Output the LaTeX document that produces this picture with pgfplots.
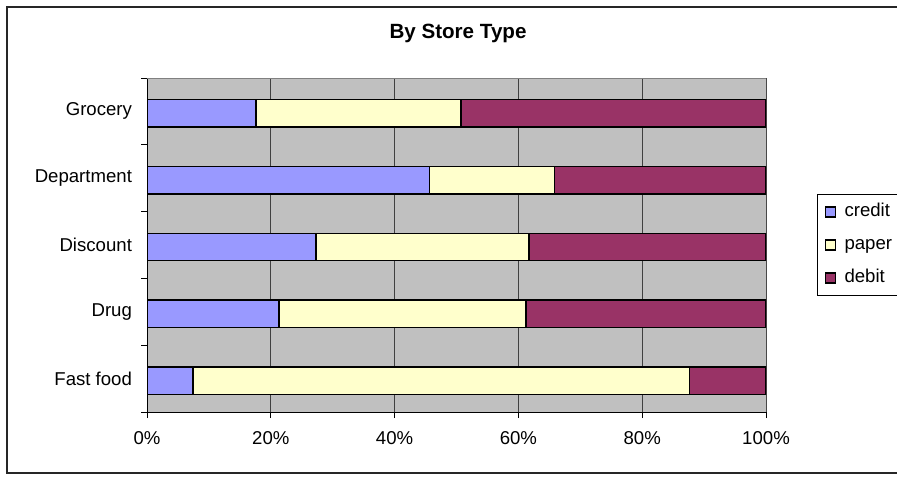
\documentclass[border=0pt]{standalone}
\usepackage{pgfplots}
\pgfplotsset{compat=1.18}
\usepackage{fontspec}
\setmainfont{Liberation Sans}

\definecolor{credit}{HTML}{9999FF}
\definecolor{paper}{HTML}{FFFFCC}
\definecolor{debit}{HTML}{993366}
\definecolor{plotbg}{HTML}{C0C0C0}
\definecolor{gridc}{HTML}{404040}
\definecolor{edgec}{HTML}{808080}

\pgfplotsset{
  sq legend/.style={legend image code/.code={%
    \path[draw=none,fill=none] (0pt,0pt) -- (8.5pt,0pt);
    \draw[##1,line width=0.6pt] (1pt,-2.5pt) rectangle (6pt,2.5pt);}},
}

\begin{document}
\begin{tikzpicture}
\useasboundingbox (0pt,0pt) rectangle (448.5pt,-238pt);
% outer chart frame (runs past the right edge)
\draw[line width=1pt, black!85] (460pt,-3.5pt) -- (3.5pt,-3.5pt) -- (3.5pt,-236.5pt) -- (460pt,-236.5pt);
\node[anchor=base, font=\fontsize{10.3}{12}\selectfont\bfseries] at (229pt,-19.5pt) {By Store Type};

\begin{axis}[
  at={(73.5pt,-206pt)}, anchor=south west,
  scale only axis, width=309.5pt, height=167pt,
  xbar stacked, bar width=0.41,
  xmin=0, xmax=100, ymin=-0.5, ymax=4.5,
  axis background/.style={fill=plotbg},
  axis line style={draw=none},
  xtick={0,20,40,60,80,100},
  xticklabels={0\%,20\%,40\%,60\%,80\%,100\%},
  ytick={-0.5,0.5,1.5,2.5,3.5,4.5},
  yticklabels={},
  extra y ticks={0,1,2,3,4},
  extra y tick labels={Fast food,Drug,Discount,Department,Grocery},
  extra y tick style={major tick length=0pt, grid=none},
  tick pos=left, tick align=outside,
  major tick length=3pt,
  tick style={black, line width=0.5pt},
  xmajorgrids,
  major grid style={gridc, line width=0.5pt},
  tick label style={font=\fontsize{9.3}{11}\selectfont},
  x tick label style={yshift=-3pt},
  y tick label style={xshift=-4pt},
  legend style={
    at={(axis description cs:1.0824,0.6527)}, anchor=north west,
    draw=black, line width=0.5pt, fill=white,
    inner xsep=3pt, inner ysep=0.5pt, row sep=0pt,
    font=\fontsize{9.3}{11}\selectfont,
    nodes={inner ysep=4.05pt, text height=6.5pt, text depth=1.9pt},
  },
  legend cell align=left,
]
\addplot[fill=credit, draw=black, line width=0.75pt, bar shift=-1pt, sq legend]
  coordinates {(7.4,0) (21.3,1) (27.3,2) (45.6,3) (17.6,4)};
\addplot[fill=paper, draw=black, line width=0.75pt, bar shift=-1pt, sq legend]
  coordinates {(80.2,0) (39.9,1) (34.4,2) (20.2,3) (33.1,4)};
\addplot[fill=debit, draw=black, line width=0.75pt, bar shift=-1pt, sq legend]
  coordinates {(12.4,0) (38.8,1) (38.3,2) (34.2,3) (49.3,4)};
\legend{credit\hspace{8pt},paper,debit}
% plot area border: grey top/right, black axis lines left/bottom
\draw[edgec, line width=0.5pt] (rel axis cs:0,1) -- (rel axis cs:1,1) -- (rel axis cs:1,0);
\draw[black, line width=0.5pt] (rel axis cs:0,1) -- (rel axis cs:0,0) -- (rel axis cs:1,0);
\end{axis}
\end{tikzpicture}
\end{document}
